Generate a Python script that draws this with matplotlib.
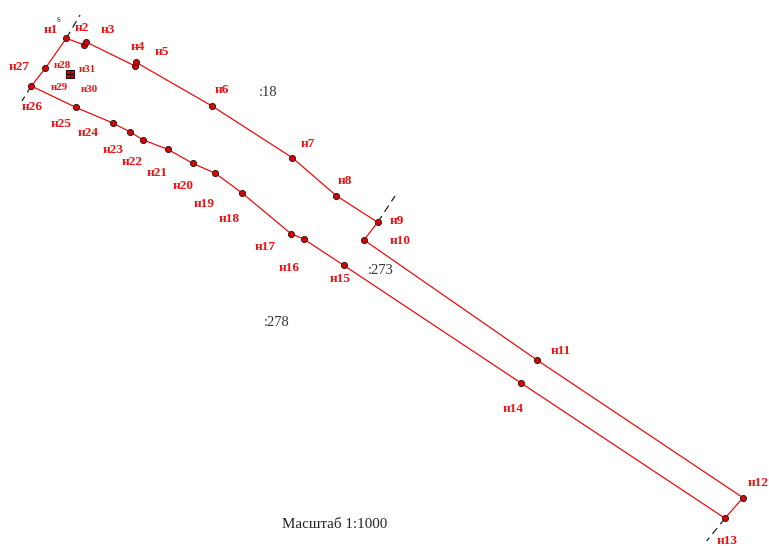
import matplotlib
matplotlib.use("Agg")
import matplotlib.pyplot as plt

W, H = 769, 546
SERIF = ["Liberation Serif", "DejaVu Serif"]

# boundary points (image pixel coordinates)
outer_x = [66.3, 84.3, 85.5, 135, 136, 212, 292.3, 336.3, 377.7, 364, 537, 743, 725, 521, 343.7, 303.7, 291,
           241.7, 215.3, 192.7, 167.7, 143.3, 129.7, 112.7, 75.7, 31.3, 45.3]
outer_y = [38.3, 45, 41.7, 66, 62.3, 106, 157.7, 195.7, 222.3, 240, 360, 497.7, 518.3, 383, 265.3, 239, 233.7,
           192.7, 173.3, 163.3, 149.3, 140, 131.7, 123, 107.3, 86, 68.3]
inner_x = [68.2, 71.8, 71.8, 68.2]
inner_y = [72.2, 72.2, 75.8, 75.8]

# neighbouring-parcel boundary stubs
stub_x = [[66.3, 80], [31.3, 22], [377.7, 395], [725, 706.7]]
stub_y = [[38.3, 15], [86, 101], [222.3, 196], [518.3, 541]]

point_names = ["н%d" % i for i in range(1, 28)]
name_x = [50.5, 81.5, 107.5, 137.5, 161.5, 221.5, 307.5, 344.5, 396.5, 400.5, 560.5, 758.5, 727.5, 513.5, 340.5,
          289.5, 265.5, 229.5, 204.5, 183.5, 157.5, 132.5, 113.5, 88.5, 61.5, 32.5, 19.5]
name_y = [30, 28, 30, 47, 52, 90, 144, 181, 221, 241, 351, 483, 541, 409, 279, 268, 247,
          219, 204, 186, 173, 162, 150, 133, 124, 107, 67]

small_names = ["н28", "н29", "н30", "н31"]
small_x = [62.5, 59.5, 89.5, 87.5]
small_y = [65, 88, 90, 69]

parcel_names = [":18", ":273", ":278"]
parcel_x = [268, 381, 277]
parcel_y = [92, 271, 323]

scale_text = "Масштаб 1:1000"

RED = "#f00000"

fig = plt.figure(figsize=(W / 100, H / 100), dpi=100)
ax = fig.add_axes([0, 0, 1, 1])
ax.set_xlim(0, W)
ax.set_ylim(H, 0)
ax.axis("off")

for sx, sy in zip(stub_x, stub_y):
    ax.plot(sx, sy, color="#222222", lw=0.9, ls=(0, (6, 4)), zorder=1)

ax.plot(outer_x + outer_x[:1], outer_y + outer_y[:1], color=RED, lw=0.85, zorder=2)
ax.plot(outer_x, outer_y, ls="", marker="o", ms=4.4, mfc="#e00000", mec="#222222", mew=0.7, zorder=3)
ax.plot(inner_x, inner_y, ls="", marker="s", ms=2.6, mfc="#e00000", mec="#111111", mew=0.8, zorder=3)

for t, x, y in zip(point_names, name_x, name_y):
    ax.text(x, y, t, color="#ee1111", family=SERIF, weight="bold", fontsize=9.5, ha="center", va="center")
for t, x, y in zip(small_names, small_x, small_y):
    ax.text(x, y, t, color="#ee1111", family=SERIF, weight="bold", fontsize=7.8, ha="center", va="center")
for t, x, y in zip(parcel_names, parcel_x, parcel_y):
    ax.text(x, y, t, color="#333333", family=SERIF, fontsize=10.5, ha="center", va="center")

ax.text(59, 19, "s", color="#666666", family=SERIF, weight="bold", fontsize=7, ha="center", va="center")
ax.text(335, 524, scale_text, color="#222222", family=SERIF, fontsize=10.8, ha="center", va="center")

fig.savefig("out.png", dpi=100, facecolor="white")
